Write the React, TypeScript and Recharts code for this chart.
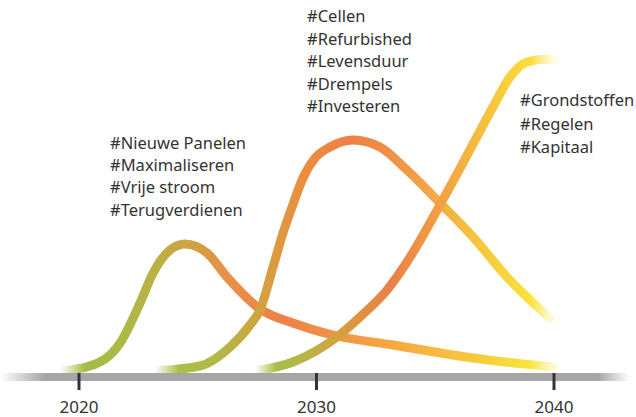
import React from "react";
import { LineChart, Line, XAxis, YAxis, Customized } from "recharts";

// Year ticks on the timeline
const yearTicks = [2020, 2030, 2040];

// Series 1: Nieuwe Panelen wave
const waveSolar = [
  { year: 2019.2, v: 0 },
  { year: 2020.46, v: 5 },
  { year: 2021.73, v: 28 },
  { year: 2022.57, v: 68 },
  { year: 2023.12, v: 98 },
  { year: 2023.83, v: 121 },
  { year: 2024.46, v: 127 },
  { year: 2025.39, v: 118 },
  { year: 2026.23, v: 94 },
  { year: 2027.62, v: 62 },
  { year: 2029.01, v: 48 },
  { year: 2030.69, v: 36 },
  { year: 2033.22, v: 26 },
  { year: 2036.59, v: 13 },
  { year: 2039.96, v: 4 },
];

// Series 2: Cellen wave
const waveCells = [
  { year: 2023.2, v: 0 },
  { year: 2025.09, v: 5 },
  { year: 2026.36, v: 24 },
  { year: 2027.2, v: 46 },
  { year: 2027.62, v: 61 },
  { year: 2028.17, v: 104 },
  { year: 2028.59, v: 138 },
  { year: 2028.97, v: 164 },
  { year: 2029.43, v: 193 },
  { year: 2029.94, v: 213 },
  { year: 2030.57, v: 224 },
  { year: 2031.54, v: 231 },
  { year: 2032.67, v: 224 },
  { year: 2033.81, v: 201 },
  { year: 2035.2, v: 168 },
  { year: 2036.59, v: 134 },
  { year: 2038.02, v: 94 },
  { year: 2039.83, v: 53 },
];

// Series 3: Grondstoffen wave
const waveMaterials = [
  { year: 2027.41, v: 0 },
  { year: 2029.01, v: 9 },
  { year: 2030.86, v: 34 },
  { year: 2031.83, v: 54 },
  { year: 2032.97, v: 81 },
  { year: 2033.81, v: 109 },
  { year: 2035.2, v: 166 },
  { year: 2036.46, v: 221 },
  { year: 2037.43, v: 264 },
  { year: 2038.15, v: 294 },
  { year: 2038.86, v: 309 },
  { year: 2039.71, v: 312 },
  { year: 2040.04, v: 311 },
];

// Hashtag labels
const tagsSolar = ["#Nieuwe Panelen", "#Maximaliseren", "#Vrije stroom", "#Terugverdienen"];
const tagsCells = ["#Cellen", "#Refurbished", "#Levensduur", "#Drempels", "#Investeren"];
const tagsMaterials = ["#Grondstoffen", "#Regelen", "#Kapitaal"];

const FONT = "'Noto Sans', sans-serif";
const TEXT = "#333333";

const TagBlock = ({ tags, x, y, step }: { tags: string[]; x: number; y: number; step: number }) => (
  <g>
    {tags.map((t, i) => (
      <text key={t} x={x} y={y + i * step} fill={TEXT} fontSize={16.5} fontFamily={FONT}>
        {t}
      </text>
    ))}
  </g>
);

const Tags = () => (
  <g>
    <TagBlock tags={tagsSolar} x={110} y={149} step={22.2} />
    <TagBlock tags={tagsCells} x={307} y={22} step={22.5} />
    <TagBlock tags={tagsMaterials} x={520} y={106} step={23.5} />
  </g>
);

const YearTick = (props: any) => {
  const { x, y, payload } = props;
  return (
    <g>
      <line x1={x} x2={x} y1={y - 4} y2={y + 13} stroke="#333" strokeWidth={3} />
      <text x={x} y={y + 36} textAnchor="middle" fill={TEXT} fontSize={17} fontFamily={FONT}>
        {payload.value}
      </text>
    </g>
  );
};

const lineProps = {
  dataKey: "v",
  type: "monotone" as const,
  strokeWidth: 9,
  strokeLinecap: "round" as const,
  dot: false,
  activeDot: false,
  isAnimationActive: false,
  filter: "url(#soft)",
};

export default function App() {
  return (
    <div style={{ position: "absolute", left: 0, top: 0, background: "#fff" }}>
      <LineChart width={636} height={417} margin={{ top: 51, right: 0, bottom: 0, left: 0 }}>
        <defs>
          <filter id="soft" x="-5%" y="-5%" width="110%" height="110%">
            <feGaussianBlur stdDeviation="0.5" />
          </filter>
          <linearGradient id="axisFade" gradientUnits="userSpaceOnUse" x1={0} y1={0} x2={636} y2={0}>
            <stop offset="0" stopColor="#a6a6a6" stopOpacity={0} />
            <stop offset="0.07" stopColor="#a6a6a6" stopOpacity={1} />
            <stop offset="0.94" stopColor="#a6a6a6" stopOpacity={1} />
            <stop offset="0.99" stopColor="#a6a6a6" stopOpacity={0} />
          </linearGradient>
          <linearGradient id="gSolar" x1="0" y1="0" x2="1" y2="0">
            <stop offset="0" stopColor="#a3bd48" stopOpacity={0} />
            <stop offset="0.05" stopColor="#a3bd48" stopOpacity={1} />
            <stop offset="0.15" stopColor="#b0b846" />
            <stop offset="0.25" stopColor="#c9a640" />
            <stop offset="0.34" stopColor="#e8904a" />
            <stop offset="0.45" stopColor="#ee804a" />
            <stop offset="0.65" stopColor="#f4a442" />
            <stop offset="0.83" stopColor="#f6c63e" />
            <stop offset="0.95" stopColor="#f8e43a" stopOpacity={1} />
            <stop offset="1" stopColor="#f8e43a" stopOpacity={0.2} />
          </linearGradient>
          <linearGradient id="gCells" x1="0" y1="0" x2="1" y2="0">
            <stop offset="0" stopColor="#a8c04c" stopOpacity={0} />
            <stop offset="0.06" stopColor="#a8c04c" stopOpacity={1} />
            <stop offset="0.19" stopColor="#b8b345" />
            <stop offset="0.28" stopColor="#d6a040" />
            <stop offset="0.36" stopColor="#e8903f" />
            <stop offset="0.5" stopColor="#ee7f45" />
            <stop offset="0.64" stopColor="#f1994a" />
            <stop offset="0.8" stopColor="#f5c240" />
            <stop offset="0.95" stopColor="#f9e33a" stopOpacity={1} />
            <stop offset="1" stopColor="#f9e33a" stopOpacity={0.2} />
          </linearGradient>
          <linearGradient id="gMaterials" x1="0" y1="0" x2="1" y2="0">
            <stop offset="0" stopColor="#a3c04a" stopOpacity={0} />
            <stop offset="0.07" stopColor="#a3c04a" stopOpacity={1} />
            <stop offset="0.15" stopColor="#b3b848" />
            <stop offset="0.28" stopColor="#d6a040" />
            <stop offset="0.45" stopColor="#eb7f45" />
            <stop offset="0.62" stopColor="#f2a044" />
            <stop offset="0.78" stopColor="#f6c43e" />
            <stop offset="0.92" stopColor="#fbdd3a" stopOpacity={1} />
            <stop offset="1" stopColor="#fbe870" stopOpacity={0.15} />
          </linearGradient>
        </defs>
        <XAxis
          dataKey="year"
          type="number"
          domain={[2016.6737, 2043.4526]}
          allowDataOverflow
          ticks={yearTicks}
          height={40}
          tickSize={0}
          tickMargin={0}
          tickLine={false}
          axisLine={{ stroke: "url(#axisFade)", strokeWidth: 8 }}
          tick={<YearTick />}
        />
        <YAxis hide type="number" domain={[-6, 320]} allowDataOverflow />
        <Line {...lineProps} data={waveSolar} stroke="url(#gSolar)" />
        <Line {...lineProps} data={waveCells} stroke="url(#gCells)" />
        <Line {...lineProps} data={waveMaterials} stroke="url(#gMaterials)" />
        <Customized component={Tags} />
      </LineChart>
    </div>
  );
}
